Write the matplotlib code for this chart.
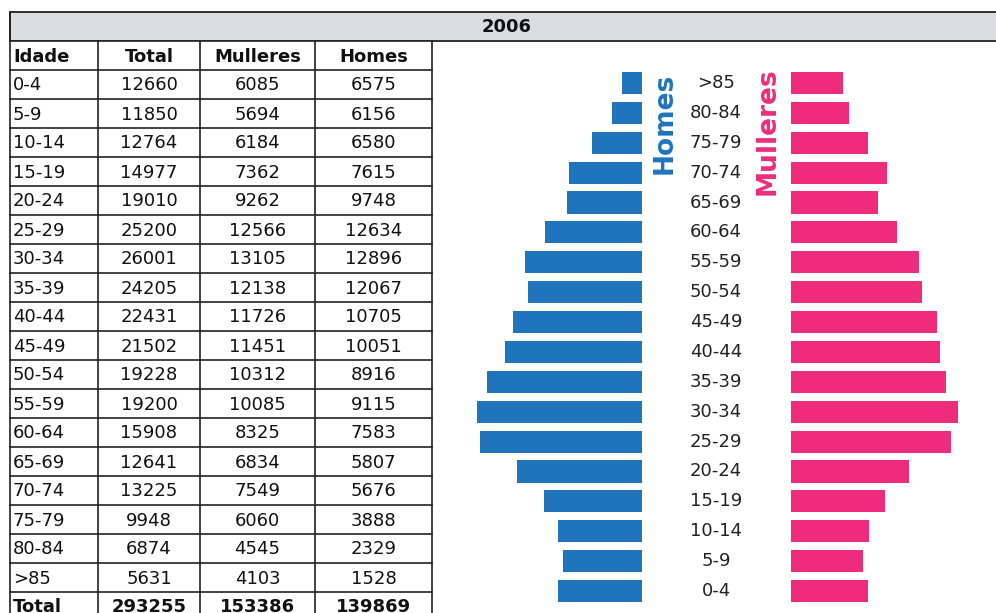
import numpy as np
import matplotlib.pyplot as plt
from matplotlib.patches import Rectangle

# Datos: poboación por idade e sexo, 2006
ano = '2006'
idades = ['0-4', '5-9', '10-14', '15-19', '20-24', '25-29', '30-34', '35-39', '40-44',
          '45-49', '50-54', '55-59', '60-64', '65-69', '70-74', '75-79', '80-84', '>85']
total = [12660, 11850, 12764, 14977, 19010, 25200, 26001, 24205, 22431,
         21502, 19228, 19200, 15908, 12641, 13225, 9948, 6874, 5631]
mulleres = [6085, 5694, 6184, 7362, 9262, 12566, 13105, 12138, 11726,
            11451, 10312, 10085, 8325, 6834, 7549, 6060, 4545, 4103]
homes = [6575, 6156, 6580, 7615, 9748, 12634, 12896, 12067, 10705,
         10051, 8916, 9115, 7583, 5807, 5676, 3888, 2329, 1528]

azul = '#1f74bc'
rosa = '#ee2c7b'
plt.rcParams['font.family'] = ['DejaVu Sans']

W, H = 996, 613
fig = plt.figure(figsize=(W / 100, H / 100), dpi=100)

# ===========================================================
# Táboa (coordenadas en píxeles)
ax0 = fig.add_axes([0, 0, 1, 1])
ax0.set_xlim(0, W)
ax0.set_ylim(H, 0)
ax0.axis('off')

ax0.add_patch(Rectangle((10, 12), 1000, 29, facecolor='#dcdddf', edgecolor='#222222', lw=1.3))
ax0.text(507, 27.5, ano, ha='center', va='center', fontsize=13, fontweight='bold', color='#111111')

cols = [10, 98, 200, 315, 432]
top, rh = 41, 29
cabeceira = ['Idade', 'Total', 'Mulleres', 'Homes']
filas = [[idades[i], total[i], mulleres[i], homes[i]] for i in range(len(idades))]
filas.append(['Total', sum(total), sum(mulleres), sum(homes)])

ax0.add_patch(Rectangle((cols[0], top), cols[-1] - cols[0], H - top, facecolor='white', edgecolor='none'))
for k in range(len(filas) + 2):
    y = top + k * rh
    ax0.plot([cols[0], cols[-1]], [y, y], color='#222222', lw=1.2)
for x in cols:
    ax0.plot([x, x], [12 if x == cols[0] else top, H], color='#222222', lw=1.2)

def celas(valores, y, negriña):
    for j, v in enumerate(valores):
        if j == 0:
            ax0.text(cols[0] + 3, y, str(v), ha='left', va='center', fontsize=13,
                     fontweight='bold' if negriña else 'normal', color='#111111')
        else:
            ax0.text((cols[j] + cols[j + 1]) / 2, y, str(v), ha='center', va='center', fontsize=13,
                     fontweight='bold' if negriña else 'normal', color='#111111')

celas(cabeceira, top + rh / 2 + 1, True)
for k, fila in enumerate(filas):
    celas(fila, top + (k + 1) * rh + rh / 2 + 1, k == len(filas) - 1)

# ===========================================================
# Pirámide
ax1 = fig.add_axes([432 / W, 0, (W - 432) / W, (H - top) / H])
ax1.set_facecolor('#f4f4f4')
pos = np.arange(len(idades))
oco = 5830
ax1.barh(pos, -np.array(homes), left=-oco, height=0.74, color=azul)
ax1.barh(pos, mulleres, left=oco, height=0.74, color=rosa)
for p, lab in zip(pos, idades):
    ax1.text(0, p, lab, ha='center', va='center', fontsize=13, color='#222222')

ax1.text(-3990, 15.66, 'Homes', rotation=90, ha='center', va='center',
         fontsize=19, fontweight='bold', color=azul)
ax1.text(4070, 15.39, 'Mulleres', rotation=90, ha='center', va='center',
         fontsize=19, fontweight='bold', color=rosa)

ax1.set_xlim(-22240, 21920)
ax1.set_ylim(-0.736, 18.405)
ax1.axis('off')
ax1.patch.set_visible(True)

fig.savefig('out.png', dpi=100)
